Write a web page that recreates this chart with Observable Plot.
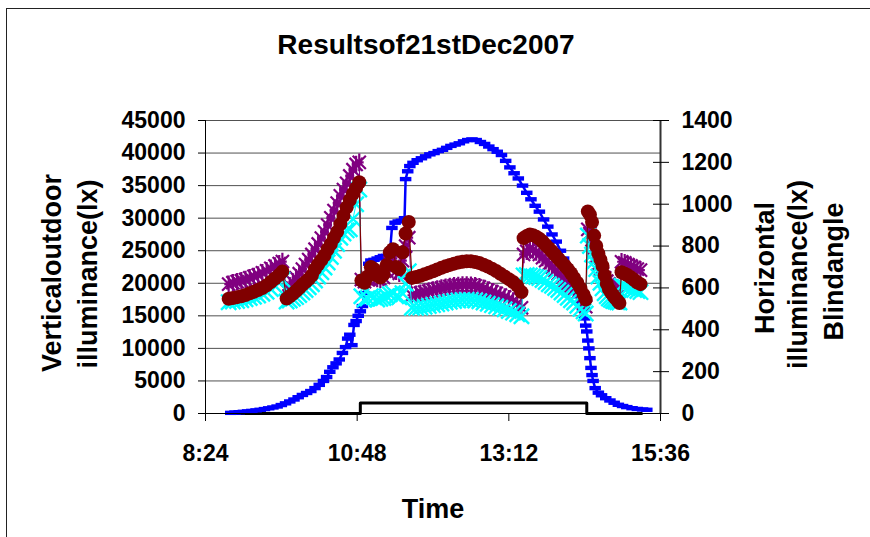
<!DOCTYPE html>
<html><head><meta charset="utf-8">
<script src="https://cdn.jsdelivr.net/npm/d3@7"></script>
<script src="https://cdn.jsdelivr.net/npm/@observablehq/plot@0.6"></script>
<style>
html,body{margin:0;padding:0;background:#fff;}
#wrap{position:relative;width:870px;height:537px;overflow:hidden;background:#fff;}
#chart{position:absolute;left:0;top:0;}
#border{position:absolute;left:6px;top:8px;width:900px;height:600px;border-left:1.5px solid #222;border-top:1.5px solid #222;pointer-events:none;}
</style></head><body>
<div id="wrap"><div id="chart"></div><div id="border"></div></div>
<script>
const title = "Resultsof21stDec2007";
const xLabel = "Time";
const leftTitle = ["Verticaloutdoor", "illuminance(lx)"];
const rightTitle = ["Horizontal", "illuminance(lx)", "Blindangle"];
const xTickLabels = ["8:24", "10:48", "13:12", "15:36"];
const leftTicks = [0, 5000, 10000, 15000, 20000, 25000, 30000, 35000, 40000, 45000];
const rightTicks = [0, 200, 400, 600, 800, 1000, 1200, 1400];

// Horizontal illuminance series (right axis)
const hTimes = [
 "8:46","8:50","8:54","8:58","9:02","9:06","9:10","9:14","9:18","9:22","9:26","9:30","9:34","9:37",
 "9:41","9:44","9:47","9:50","9:53","9:56","9:59","10:02","10:05","10:08","10:11","10:14","10:17","10:20","10:23","10:26","10:29","10:32","10:35","10:38","10:41","10:44","10:47","10:50",
 "10:52","10:55","10:58","11:01","11:04","11:07","11:10","11:13","11:16","11:19","11:22","11:25","11:28","11:31","11:34","11:37",
 "11:40","11:44","11:48","11:52","11:56","12:00","12:04","12:08","12:12","12:16","12:20","12:24","12:28","12:32","12:36","12:40","12:44","12:48","12:52","12:56","13:00","13:04","13:08","13:12","13:16","13:20","13:24",
 "13:26","13:29","13:32","13:35","13:38","13:41","13:44","13:47","13:50","13:53","13:56","13:59","14:02","14:05","14:08","14:11","14:14","14:17","14:20","14:23","14:25",
 "14:27","14:29","14:31","14:33","14:35","14:37","14:39","14:41","14:43","14:45","14:47","14:49","14:51","14:53","14:55","14:57",
 "14:59","15:02","15:05","15:08","15:11","15:14","15:17"
];
const redValues = [
 548,552,556,560,566,574,582,590,600,612,628,645,662,678,
 549,560,572,585,600,615,628,642,660,690,712,733,755,785,810,840,868,905,945,985,1020,1050,1078,1105,
 635,625,655,700,690,660,650,665,710,770,785,700,690,770,860,915,
 648,652,658,665,672,680,688,696,703,710,716,721,725,727,727,724,719,711,702,692,681,668,655,642,628,610,580,
 838,848,855,852,845,835,822,805,790,774,757,740,724,707,690,670,648,625,598,568,545,
 965,950,915,850,800,765,735,705,660,620,595,578,565,552,540,528,
 675,668,660,650,638,626,618
];
const purpleValues = [
 618,625,630,634,640,648,655,662,672,682,694,705,716,726,
 590,610,628,648,668,690,712,735,760,785,810,838,868,900,935,970,1005,1040,1070,1100,1135,1165,1190,1200,
 640,630,640,670,660,645,640,650,680,720,740,680,670,730,800,840,
 565,570,575,580,585,590,595,599,603,607,610,612,614,614,613,610,605,598,590,582,574,566,557,548,538,525,505,
 760,775,785,782,772,760,745,730,715,700,684,668,652,636,622,608,594,575,552,527,510,
 880,860,830,790,750,715,690,668,648,632,620,610,602,596,590,585,
 725,720,712,705,698,690,685
];
const cyanValues = [
 532,535,538,541,546,552,558,564,572,582,595,610,625,640,
 535,540,548,556,566,578,590,603,618,636,655,675,698,722,748,778,810,840,860,875,880,930,1000,1070,
 560,545,550,560,555,545,548,552,560,570,575,560,555,575,620,680,
 505,505,507,510,514,518,522,526,530,534,538,540,542,543,542,540,536,530,524,518,512,505,498,490,482,474,465,
 660,662,660,656,652,647,638,628,618,610,600,590,578,566,553,541,530,515,500,488,478,
 850,800,760,725,690,655,625,598,575,560,550,543,538,535,532,530,
 610,605,600,595,590,585,580
];

// Vertical outdoor illuminance (left axis)
const blueTimes = [
 "8:48","8:52","8:56","9:00","9:04","9:08","9:12","9:16","9:20","9:24","9:28","9:32","9:36","9:40","9:44","9:48","9:52","9:56",
 "10:00","10:04","10:08","10:12","10:16","10:19","10:22","10:25","10:28","10:31","10:34","10:37","10:39","10:41","10:43","10:45","10:47","10:49","10:51","10:53","10:55","10:57","10:59",
 "11:01","11:04","11:07","11:10","11:13","11:16","11:19","11:21","11:24","11:27","11:30","11:33","11:34","11:36","11:38","11:41","11:45","11:49","11:53","11:57",
 "12:01","12:05","12:09","12:13","12:17","12:21","12:25","12:29","12:33","12:37","12:41","12:45","12:49","12:53","12:57",
 "13:01","13:05","13:09","13:13","13:17","13:21","13:25","13:29","13:33","13:37","13:41","13:45","13:49","13:53","13:57",
 "14:01","14:04","14:07","14:10","14:13","14:16","14:18","14:20","14:22","14:24","14:25","14:26","14:27","14:28","14:29","14:30","14:31","14:32","14:34","14:37","14:40","14:44","14:48","14:52","14:56",
 "15:00","15:04","15:09","15:14","15:19","15:23"
];
const blueValues = [
 100,150,200,260,330,400,480,570,680,800,930,1075,1300,1560,1850,2150,2500,2850,
 3150,3450,3900,4400,5000,5600,6400,7100,7700,8300,9300,10200,11500,12100,10500,13600,14200,15000,15700,16500,18500,21000,23000,
 23500,23600,23800,24000,24200,24200,24500,28500,29300,29500,29600,30000,36000,37200,38000,38500,38900,39200,39500,39800,
 40000,40300,40500,40800,41100,41300,41500,41800,42000,42100,42000,41700,41400,41000,40600,
 40200,39700,38800,37800,36900,36100,35000,33900,32900,31900,31000,29800,28700,27500,26400,
 25000,23800,22600,21400,20200,19000,18000,17000,16000,14600,13500,12600,11200,10000,8500,7000,5900,5000,3900,3200,2800,2350,2000,1650,1340,
 1150,980,815,700,620,570
];

// Blind angle (right axis)
const blindTimes = ["8:47", "10:51", "14:26", "15:18"];
const blindValues = [0, 50, 0, 0];

const parse = d3.timeParse("%H:%M");
const k = 45000 / 1400;
const hRows = hTimes.map((t, i) => ({t: parse(t), red: redValues[i], purple: purpleValues[i], cyan: cyanValues[i]}));
const blueRows = blueTimes.map((t, i) => ({t: parse(t), v: blueValues[i]}));
const blindRows = blindTimes.map((t, i) => ({t: parse(t), v: blindValues[i]}));
const xTicks = xTickLabels.map(parse);
const xDomain = [xTicks[0], xTicks[xTicks.length - 1]];
const rightScaled = rightTicks.map(v => v * k);

const starSym = {draw(ctx, size) {
  const r = Math.sqrt(size) * 0.55, d = r * 0.75;
  ctx.moveTo(0, -r); ctx.lineTo(0, r);
  ctx.moveTo(-d, -d); ctx.lineTo(d, d);
  ctx.moveTo(-d, d); ctx.lineTo(d, -d);
  ctx.moveTo(-r * 0.5, 0); ctx.lineTo(r * 0.5, 0);
}};
const dashSym = {draw(ctx, size) {
  const w = Math.sqrt(size) * 0.5;
  ctx.rect(-w, -2.2, 2 * w, 4.4);
}};

const font = "'Liberation Sans', Arial, sans-serif";
const chart = Plot.plot({
  width: 870, height: 537,
  marginTop: 120, marginBottom: 124, marginLeft: 205, marginRight: 210,
  x: {type: "time", domain: xDomain},
  y: {domain: [0, 45000]},
  style: {fontFamily: font, fontWeight: "bold", fontSize: "23px", color: "#000", background: "#fff", overflow: "visible"},
  marks: [
    Plot.gridY(leftTicks, {stroke: "#333", strokeOpacity: 0.85, strokeWidth: 1}),
    Plot.ruleX([xDomain[0]], {stroke: "#000", strokeWidth: 1}),
    Plot.ruleX([xDomain[1]], {stroke: "#333", strokeWidth: 2}),
    Plot.axisY(leftTicks, {anchor: "left", tickSize: 7, tickPadding: 13, label: null, tickFormat: d => String(d)}),
    Plot.axisY(rightScaled, {anchor: "right", tickSize: 8, tickPadding: 13, label: null, tickFormat: d => String(Math.round(d / k))}),
    Plot.axisY(rightScaled, {anchor: "right", tickSize: -8, tickPadding: 0, label: null, tickFormat: () => ""}),
    Plot.axisX(xTicks, {anchor: "bottom", tickSize: 8, tickPadding: 23, label: null, tickFormat: d3.timeFormat("%-H:%M")}),
    Plot.line(blindRows, {x: "t", y: d => d.v * k, curve: "step-after", stroke: "#000", strokeWidth: 3}),
    Plot.line(blueRows, {x: "t", y: "v", stroke: "#0000FF", strokeWidth: 2.5}),
    Plot.dot(blueRows, {x: "t", y: "v", symbol: dashSym, r: 6.5, fill: "#0000FF", stroke: "none"}),
    Plot.line(hRows, {x: "t", y: d => d.purple * k, stroke: "#800080", strokeWidth: 1}),
    Plot.dot(hRows, {x: "t", y: d => d.purple * k, symbol: starSym, r: 9, stroke: "#800080", strokeWidth: 2.2, fill: "none"}),
    Plot.line(hRows, {x: "t", y: d => d.cyan * k, stroke: "#00FFFF", strokeWidth: 1}),
    Plot.dot(hRows, {x: "t", y: d => d.cyan * k, symbol: "times", r: 7, stroke: "#00FFFF", strokeWidth: 2.4}),
    Plot.line(hRows, {x: "t", y: d => d.red * k, stroke: "#800000", strokeWidth: 1.2}),
    Plot.dot(hRows, {x: "t", y: d => d.red * k, r: 7, fill: "#800000", stroke: "none"}),
    Plot.ruleY([0], {stroke: "#000", strokeWidth: 1}),
    Plot.text([title], {text: d => d, frameAnchor: "top", textAnchor: "middle", lineAnchor: "bottom", dy: -67, dx: -7, fontSize: 28}),
    Plot.text([xLabel], {text: d => d, frameAnchor: "bottom", textAnchor: "middle", lineAnchor: "bottom", dy: 104, fontSize: 27}),
    Plot.text([leftTitle[0]], {text: d => d, frameAnchor: "left", textAnchor: "middle", lineAnchor: "bottom", rotate: -90, dx: -145, dy: 6, fontSize: 27}),
    Plot.text([leftTitle[1]], {text: d => d, frameAnchor: "left", textAnchor: "middle", lineAnchor: "bottom", rotate: -90, dx: -109, dy: 7, fontSize: 27}),
    Plot.text([rightTitle[0]], {text: d => d, frameAnchor: "right", textAnchor: "middle", lineAnchor: "bottom", rotate: -90, dx: 113, dy: 1, fontSize: 27}),
    Plot.text([rightTitle[1]], {text: d => d, frameAnchor: "right", textAnchor: "middle", lineAnchor: "bottom", rotate: -90, dx: 146, dy: 7.5, fontSize: 27}),
    Plot.text([rightTitle[2]], {text: d => d, frameAnchor: "right", textAnchor: "middle", lineAnchor: "bottom", rotate: -90, dx: 182, dy: 4.5, fontSize: 27})
  ]
});
document.getElementById("chart").appendChild(chart);
</script>
</body></html>
